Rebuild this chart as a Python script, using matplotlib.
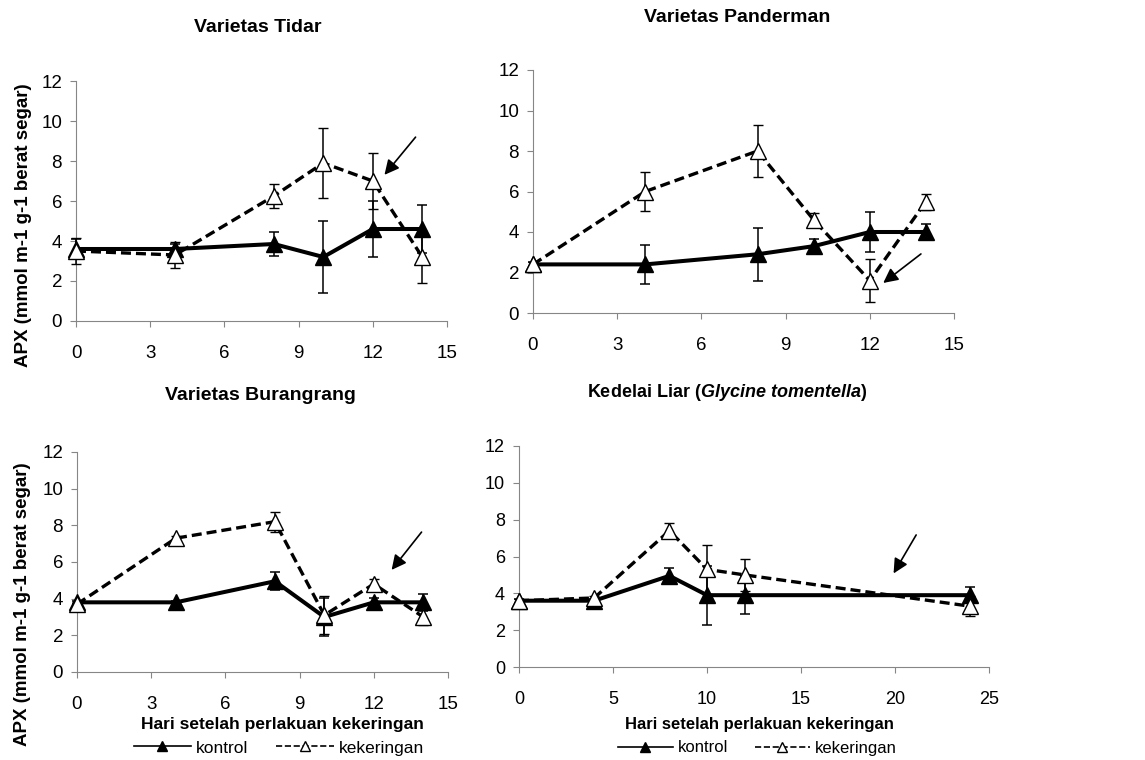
import matplotlib.pyplot as plt
from matplotlib.lines import Line2D

plt.rcParams['font.family'] = ['Liberation Sans', 'DejaVu Sans']
plt.rcParams['mathtext.fontset'] = 'custom'
plt.rcParams['mathtext.rm'] = 'Liberation Sans:bold'
plt.rcParams['mathtext.it'] = 'Liberation Sans:italic:bold'

# days after drought treatment
days = [0, 4, 8, 10, 12, 14]
days_liar = [0, 4, 8, 10, 12, 24]

# Varietas Tidar
tidar_kontrol = [3.6, 3.6, 3.85, 3.2, 4.6, 4.6]
tidar_kontrol_err = [0.5, 0.25, 0.6, 1.8, 1.4, 1.2]
tidar_kering = [3.5, 3.3, 6.25, 7.9, 7.0, 3.2]
tidar_kering_err = [0.65, 0.65, 0.6, 1.75, 1.4, 1.3]

# Varietas Panderman
pand_kontrol = [2.4, 2.4, 2.9, 3.3, 4.0, 4.0]
pand_kontrol_err = [0.1, 0.95, 1.3, 0.35, 1.0, 0.4]
pand_kering = [2.4, 6.0, 8.0, 4.6, 1.6, 5.5]
pand_kering_err = [0.1, 0.95, 1.3, 0.35, 1.05, 0.4]

# Varietas Burangrang
bur_kontrol = [3.8, 3.8, 4.95, 3.0, 3.8, 3.8]
bur_kontrol_err = [0.1, 0.1, 0.5, 1.05, 0.25, 0.45]
bur_kering = [3.7, 7.3, 8.2, 3.1, 4.8, 3.0]
bur_kering_err = [0.1, 0.1, 0.55, 1.05, 0.25, 0.45]

# Kedelai liar (Glycine tomentella)
liar_kontrol = [3.6, 3.6, 4.95, 3.9, 3.9, 3.9]
liar_kontrol_err = [0.1, 0.1, 0.4, 1.6, 1.0, 0.45]
liar_kering = [3.6, 3.75, 7.4, 5.3, 5.0, 3.3]
liar_kering_err = [0.1, 0.1, 0.4, 1.35, 0.85, 0.55]

titles = ['Varietas Tidar', 'Varietas Panderman', 'Varietas Burangrang',
          r'Kedelai Liar ($\mathit{Glycine\ tomentella}$)']
ylabel = 'APX (mmol m-1 g-1 berat segar)'
xlabel = 'Hari setelah perlakuan kekeringan'

W, H = 1145, 760
fig = plt.figure(figsize=(W / 100, H / 100), dpi=100)


def px_axes(x0, y0, x1, y1):
    # pixel box (left, top, right, bottom) -> figure axes
    return fig.add_axes([x0 / W, 1 - y1 / H, (x1 - x0) / W, (y1 - y0) / H])


# last value: tick label size (the wild soybean panel is squeezed in the original)
panels = [
    (px_axes(76, 81, 447, 321), days, tidar_kontrol, tidar_kontrol_err, tidar_kering, tidar_kering_err,
     15, 3, ((13.8, 9.3), (12.4, 7.2)), 13.5),
    (px_axes(533, 70, 954, 313), days, pand_kontrol, pand_kontrol_err, pand_kering, pand_kering_err,
     15, 3, ((13.9, 3.0), (12.4, 1.4)), 13.5),
    (px_axes(77, 452, 448, 672), days, bur_kontrol, bur_kontrol_err, bur_kering, bur_kering_err,
     15, 3, ((14.0, 7.75), (12.65, 5.45)), 13.5),
    (px_axes(519, 446, 989, 667), days_liar, liar_kontrol, liar_kontrol_err, liar_kering, liar_kering_err,
     25, 5, ((21.2, 7.3), (19.85, 4.95)), 13),
]

for ax, x, k, kerr, d, derr, xmax, xstep, arrow, tsize in panels:
    ax.errorbar(x, k, yerr=kerr, color='black', lw=2.9, marker='^', ms=12,
                mfc='black', mec='black', ecolor='black', elinewidth=1.1,
                capsize=3.5, capthick=1.1, clip_on=False, zorder=3)
    ax.errorbar(x, d, yerr=derr, color='black', lw=2.4, ls=(0, (3, 1.5)), marker='^', ms=12,
                mfc='white', mec='black', mew=1, ecolor='black', elinewidth=1.1,
                capsize=3.5, capthick=1.1, clip_on=False, zorder=4)
    ax.annotate('', xy=arrow[1], xytext=arrow[0],
                arrowprops=dict(arrowstyle='-|>', color='black', lw=1.2, mutation_scale=22))
    ax.set_xlim(0, xmax)
    ax.set_ylim(0, 12)
    ax.set_xticks(range(0, xmax + 1, xstep))
    ax.set_yticks(range(0, 13, 2))
    for s in ['top', 'right']:
        ax.spines[s].set_visible(False)
    for s in ['left', 'bottom']:
        ax.spines[s].set_color('#868686')
    ax.tick_params(direction='out', length=4, color='#868686', labelsize=tsize, pad=6)
    ax.tick_params(axis='x', pad=13)

# titles
fig.text(258 / W, 1 - 28 / H, titles[0], ha='center', va='center', fontsize=14, fontweight='bold')
fig.text(737 / W, 1 - 17 / H, titles[1], ha='center', va='center', fontsize=14, fontweight='bold')
fig.text(260 / W, 1 - 396 / H, titles[2], ha='center', va='center', fontsize=14, fontweight='bold')
fig.text(727 / W, 1 - 392 / H, titles[3], ha='center', va='center', fontsize=13, fontweight='bold')

# y labels
fig.text(24 / W, 1 - 225 / H, ylabel, rotation=90, ha='center', va='center', fontsize=13.5, fontweight='bold')
fig.text(23 / W, 1 - 604 / H, ylabel, rotation=90, ha='center', va='center', fontsize=13.5, fontweight='bold')

# x labels
fig.text(282 / W, 1 - 725 / H, xlabel, ha='center', va='center', fontsize=12.5, fontweight='bold')
fig.text(759 / W, 1 - 725 / H, xlabel, ha='center', va='center', fontsize=12, fontweight='bold')

# legends
handles = [Line2D([], [], color='black', lw=1.2, marker='^', ms=7, mfc='black', mec='black'),
           Line2D([], [], color='black', lw=1.2, ls='--', marker='^', ms=7, mfc='white', mec='black')]
labels = ['kontrol', 'kekeringan']
for ax, cx, lsize in [(panels[2][0], 279, 12.5), (panels[3][0], 757, 12)]:
    ax.legend(handles, labels, ncol=2, loc='center', bbox_to_anchor=(cx / W, 1 - 748 / H),
              bbox_transform=fig.transFigure, frameon=False, fontsize=lsize,
              handlelength=3.3, handletextpad=0.3, columnspacing=1.6, borderpad=0)

plt.savefig('out.png', dpi=100)
